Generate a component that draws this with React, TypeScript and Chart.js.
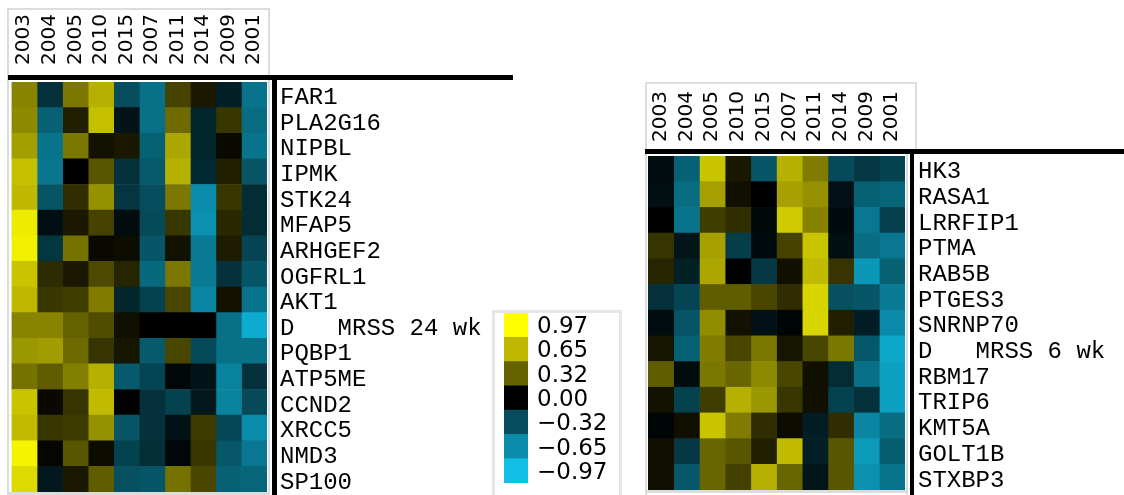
import React, { useEffect, useRef } from "react";
import { Chart, registerables } from "chart.js";
Chart.register(...registerables);

// ---------- data ----------
const yearsLeft = ["2003", "2004", "2005", "2010", "2015", "2007", "2011", "2014", "2009", "2001"];
const genesLeft = ["FAR1", "PLA2G16", "NIPBL", "IPMK", "STK24", "MFAP5", "ARHGEF2", "OGFRL1", "AKT1", "D   MRSS 24 wk", "PQBP1", "ATP5ME", "CCND2", "XRCC5", "NMD3", "SP100"];
const valuesLeft = [
  [0.45, -0.2, 0.4, 0.62, -0.32, -0.5, 0.22, 0.08, -0.13, -0.52],
  [0.47, -0.42, 0.1, 0.68, -0.08, -0.5, 0.35, -0.15, 0.18, -0.48],
  [0.55, -0.52, 0.4, 0.06, 0.08, -0.42, 0.58, -0.15, 0.03, -0.52],
  [0.68, -0.53, 0.0, 0.28, -0.2, -0.38, 0.62, -0.17, 0.1, -0.36],
  [0.65, -0.35, 0.15, 0.5, -0.22, -0.32, 0.4, -0.65, 0.18, -0.18],
  [0.88, -0.06, 0.08, 0.22, -0.05, -0.3, 0.18, -0.68, 0.13, -0.18],
  [0.9, -0.22, 0.38, 0.03, 0.04, -0.36, 0.06, -0.56, 0.09, -0.28],
  [0.7, 0.14, 0.08, 0.24, 0.12, -0.46, 0.4, -0.56, -0.2, -0.36],
  [0.65, 0.18, 0.2, 0.42, -0.15, -0.27, 0.23, -0.62, 0.06, -0.52],
  [0.45, 0.45, 0.32, 0.25, 0.05, 0.0, 0.0, 0.0, -0.5, -0.85],
  [0.52, 0.54, 0.35, 0.17, 0.07, -0.38, 0.23, -0.3, -0.5, -0.5],
  [0.38, 0.3, 0.43, 0.62, -0.38, -0.28, -0.03, -0.08, -0.6, -0.2],
  [0.7, 0.03, 0.17, 0.66, 0.0, -0.2, -0.27, -0.1, -0.6, -0.3],
  [0.66, 0.18, 0.19, 0.5, -0.36, -0.2, -0.07, 0.19, -0.29, -0.65],
  [0.92, 0.02, 0.28, 0.04, -0.27, -0.19, -0.03, 0.18, -0.37, -0.54],
  [0.8, -0.1, 0.08, 0.3, -0.33, -0.36, 0.38, 0.23, -0.42, -0.44],
];

const yearsRight = ["2003", "2004", "2005", "2010", "2015", "2007", "2011", "2014", "2009", "2001"];
const genesRight = ["HK3", "RASA1", "LRRFIP1", "PTMA", "RAB5B", "PTGES3", "SNRNP70", "D   MRSS 6 wk", "RBM17", "TRIP6", "KMT5A", "GOLT1B", "STXBP3"];
const valuesRight = [
  [-0.05, -0.42, 0.7, 0.08, -0.36, 0.62, 0.42, -0.3, -0.23, -0.27],
  [-0.06, -0.48, 0.56, 0.05, 0.0, 0.56, 0.5, -0.07, -0.42, -0.44],
  [0.0, -0.52, 0.2, 0.15, -0.03, 0.73, 0.44, -0.04, -0.54, -0.26],
  [0.17, -0.09, 0.56, -0.25, -0.04, 0.22, 0.7, -0.06, -0.48, -0.54],
  [0.12, -0.13, 0.58, 0.0, -0.23, 0.05, 0.66, 0.17, -0.72, -0.42],
  [-0.2, -0.28, 0.3, 0.3, 0.23, 0.15, 0.78, -0.33, -0.36, -0.56],
  [-0.05, -0.35, 0.48, 0.06, -0.07, -0.02, 0.78, 0.1, -0.12, -0.64],
  [0.07, -0.42, 0.42, 0.23, 0.4, 0.07, 0.23, 0.4, -0.37, -0.82],
  [0.3, -0.05, 0.4, 0.33, 0.47, 0.23, 0.05, -0.18, -0.5, -0.78],
  [0.06, -0.27, 0.2, 0.62, 0.52, 0.18, 0.05, -0.27, -0.2, -0.78],
  [-0.02, 0.05, 0.7, 0.42, 0.15, 0.04, -0.12, 0.15, -0.62, -0.48],
  [0.05, -0.23, 0.33, 0.28, 0.1, 0.66, -0.13, 0.28, -0.74, -0.4],
  [0.05, -0.37, 0.33, 0.21, 0.62, 0.33, -0.09, 0.28, -0.68, -0.52],
];

const legendValues = [0.97, 0.65, 0.32, 0.0, -0.32, -0.65, -0.97];
const legendLabels = ["0.97", "0.65", "0.32", "0.00", "\u22120.32", "\u22120.65", "\u22120.97"];

// ---------- colour scale ----------
const colorStops: [number, number[]][] = [
  [-0.97, [16, 190, 230]],
  [-0.65, [10, 140, 170]],
  [-0.32, [6, 78, 94]],
  [0, [0, 0, 0]],
  [0.32, [102, 98, 0]],
  [0.65, [190, 185, 0]],
  [0.97, [255, 255, 0]],
];
function colorFor(v: number): string {
  if (v <= colorStops[0][0]) return `rgb(${colorStops[0][1].join(",")})`;
  for (let i = 0; i < colorStops.length - 1; i++) {
    const [a, ca] = colorStops[i];
    const [b, cb] = colorStops[i + 1];
    if (v >= a && v <= b) {
      const t = (v - a) / (b - a);
      const c = ca.map((x, k) => Math.round(x + (cb[k] - x) * t));
      return `rgb(${c.join(",")})`;
    }
  }
  return `rgb(${colorStops[colorStops.length - 1][1].join(",")})`;
}

type Area = { left: number; top: number; right: number; bottom: number };

const YEAR_FONT_SIZE = 20;

function zeroPad(s: any) {
  s.paddingLeft = 0;
  s.paddingRight = 0;
  s.paddingTop = 0;
  s.paddingBottom = 0;
}

function Heatmap(props: {
  years: string[];
  genes: string[];
  values: number[][];
  x: number;
  y: number;
  w: number;
  h: number;
  area: Area;
  yearPad: number;
}) {
  const ref = useRef<HTMLCanvasElement>(null);
  const { years, genes, values, x, y, w, h, area, yearPad } = props;
  useEffect(() => {
    if (!ref.current) return;
    const chart = new Chart(ref.current, {
      type: "bar",
      data: {
        labels: genes,
        datasets: years.map((yr, c) => ({
          label: yr,
          data: genes.map(() => 1),
          backgroundColor: values.map((row) => colorFor(row[c])),
          borderWidth: 0,
          categoryPercentage: 1,
          barPercentage: 1,
        })),
      },
      options: {
        indexAxis: "y",
        animation: false,
        responsive: false,
        maintainAspectRatio: false,
        events: [],
        layout: { autoPadding: false, padding: { left: area.left, right: 0, top: 0, bottom: h - area.bottom } },
        plugins: { legend: { display: false }, tooltip: { enabled: false } },
        scales: {
          x: {
            type: "linear",
            position: "top",
            stacked: true,
            min: 0,
            max: years.length,
            grid: { display: false, drawTicks: false },
            border: { display: false },
            afterBuildTicks: (s: any) => {
              s.ticks = years.map((_, i) => ({ value: i + 0.5 }));
            },
            afterFit: (s: any) => {
              s.height = area.top;
              zeroPad(s);
            },
            ticks: {
              autoSkip: false,
              minRotation: 90,
              maxRotation: 90,
              padding: yearPad,
              labelOffset: YEAR_FONT_SIZE * 1.2,
              color: "#000",
              font: { family: "DejaVu Sans", size: YEAR_FONT_SIZE },
              callback: (v: any) => years[Math.floor(Number(v))],
            },
          },
          y: {
            type: "category",
            position: "right",
            stacked: true,
            grid: { display: false, drawTicks: false },
            border: { display: false },
            afterFit: (s: any) => {
              s.width = w - area.right;
              zeroPad(s);
            },
            ticks: {
              autoSkip: false,
              padding: 13,
              labelOffset: 3,
              color: "#000",
              font: { family: "'Liberation Mono', 'Courier New', monospace", size: 24 },
            },
          },
        },
      } as any,
    });
    return () => chart.destroy();
  }, []);
  return (
    <canvas
      ref={ref}
      width={w}
      height={h}
      style={{ position: "absolute", left: x, top: y, width: w, height: h, display: "block" }}
    />
  );
}

function ColorLegend() {
  const ref = useRef<HTMLCanvasElement>(null);
  const W = 130, H = 195;
  const area = { left: 9, top: 13, right: 33, bottom: 183 };
  useEffect(() => {
    if (!ref.current) return;
    const chart = new Chart(ref.current, {
      type: "bar",
      data: {
        labels: legendLabels,
        datasets: [
          {
            data: legendValues.map(() => 1),
            backgroundColor: legendValues.map((v) => colorFor(v)),
            borderWidth: 0,
            categoryPercentage: 1,
            barPercentage: 1,
          },
        ],
      },
      options: {
        indexAxis: "y",
        animation: false,
        responsive: false,
        maintainAspectRatio: false,
        events: [],
        layout: { autoPadding: false, padding: { left: area.left, top: area.top, right: 0, bottom: H - area.bottom } },
        plugins: { legend: { display: false }, tooltip: { enabled: false } },
        scales: {
          x: { display: false, min: 0, max: 1 },
          y: {
            position: "right",
            grid: { display: false, drawTicks: false },
            border: { display: false },
            afterFit: (s: any) => {
              s.width = W - area.right;
              zeroPad(s);
            },
            ticks: {
              autoSkip: false,
              padding: 9,
              labelOffset: 2,
              color: "#000",
              font: { family: "DejaVu Sans", size: 23 },
            },
          },
        },
      } as any,
    });
    return () => chart.destroy();
  }, []);
  return (
    <canvas
      ref={ref}
      width={W}
      height={H}
      style={{ position: "absolute", left: 495, top: 300, width: W, height: H, display: "block" }}
    />
  );
}

function Rect(p: { l: number; t: number; w: number; h: number; c: string }) {
  return <div style={{ position: "absolute", left: p.l, top: p.t, width: p.w, height: p.h, background: p.c }} />;
}

export default function App() {
  const gray = "#dcdcdc";
  return (
    <div style={{ position: "fixed", left: 0, top: 0, width: 1124, height: 495, background: "#fff", overflow: "hidden" }}>
      {/* left header box and frame */}
      <Rect l={7} t={8} w={2} h={487} c={gray} />
      <Rect l={7} t={8} w={263} h={2} c={gray} />
      <Rect l={268} t={8} w={2} h={487} c={gray} />
      <Rect l={7} t={492} w={263} h={3} c={gray} />
      {/* right header box and frame */}
      <Rect l={645} t={82} w={2} h={413} c={gray} />
      <Rect l={645} t={82} w={272} h={2} c={gray} />
      <Rect l={915} t={82} w={2} h={68} c={gray} />
      <Rect l={906} t={150} w={2} h={345} c={gray} />
      <Rect l={645} t={490} w={263} h={3} c={gray} />
      {/* legend box */}
      <div style={{ position: "absolute", left: 492, top: 310, width: 124, height: 190, border: "3px solid #e6e6e6" }} />

      <Heatmap years={yearsLeft} genes={genesLeft} values={valuesLeft} x={0} y={0} w={495} h={495}
        area={{ left: 11.5, top: 82, right: 267, bottom: 492 }} yearPad={17} />
      <Heatmap years={yearsRight} genes={genesRight} values={valuesRight} x={630} y={80} w={494} h={415}
        area={{ left: 18, top: 76, right: 275, bottom: 410 }} yearPad={14} />
      <ColorLegend />

      {/* black separator lines */}
      <Rect l={8} t={75} w={505} h={5} c="#000" />
      <Rect l={272} t={80} w={5} h={415} c="#000" />
      <Rect l={645} t={149} w={479} h={5} c="#000" />
      <Rect l={910} t={154} w={4} h={341} c="#000" />
    </div>
  );
}
